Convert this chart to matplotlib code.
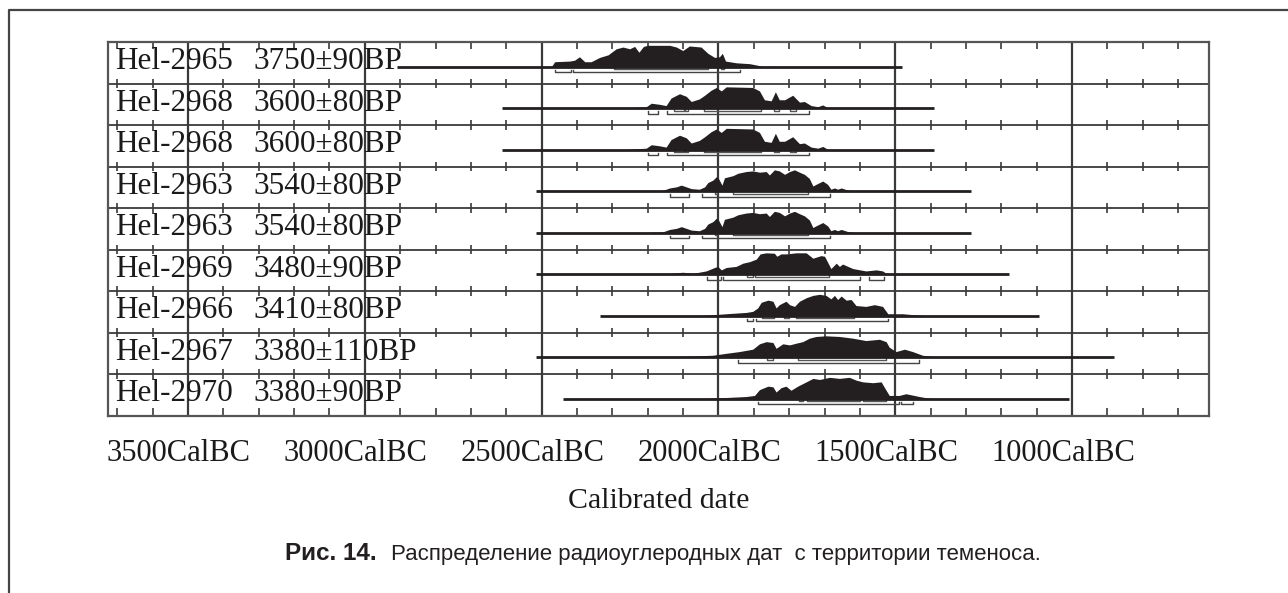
#!/usr/bin/env python3
"""Calibrated radiocarbon dates (OxCal-style multiplot), Fig. 14."""

import matplotlib
matplotlib.use("Agg")
import matplotlib.pyplot as plt
from matplotlib.lines import Line2D
from matplotlib.transforms import ScaledTranslation
import numpy as np

W, H = 1288, 593

# ---- data -------------------------------------------------------------
lab_ids = ["Hel-2965", "Hel-2968", "Hel-2968", "Hel-2963", "Hel-2963",
           "Hel-2969", "Hel-2966", "Hel-2967", "Hel-2970"]
bp_ages = ["3750±90BP", "3600±80BP", "3600±80BP", "3540±80BP", "3540±80BP",
           "3480±90BP", "3410±80BP", "3380±110BP", "3380±90BP"]

# extent of the horizontal line drawn for each date (years BC)
line_start = [2910, 2613, 2613, 2515, 2515, 2515, 2336, 2515, 2440]
line_end = [1480, 1390, 1390, 1285, 1285, 1178, 1093, 881, 1008]

# probability curves (years BC, relative height)
yr_2965 = [2473, 2463, 2421, 2407, 2393, 2378, 2360, 2336, 2312, 2289, 2270,
           2251, 2237, 2225, 2212, 2200, 2138, 2119, 2101, 2082, 2049, 2030,
           2011, 1997, 1989, 1980, 1950, 1912, 1884, 1875, 1846, 1828]
pr_2965 = [0, 0.24, 0.27, 0.31, 0.47, 0.24, 0.24, 0.44, 0.56, 0.84, 0.92,
           0.84, 0.95, 0.68, 0.95, 1.0, 1.0, 0.92, 0.76, 0.97, 0.92, 0.63,
           0.44, 0.47, 0.63, 0.27, 0.19, 0.15, 0.06, 0, 0.03, 0]

yr_2968 = [2279, 2204, 2190, 2167, 2148, 2134, 2110, 2091, 2077, 2054, 2039,
           2021, 2006, 1992, 1978, 1903, 1884, 1870, 1851, 1839, 1828, 1813,
           1790, 1771, 1757, 1738, 1719, 1705, 1691, 1682]
pr_2968 = [0, 0.08, 0.24, 0.19, 0.13, 0.48, 0.68, 0.56, 0.32, 0.44, 0.61,
           0.84, 0.97, 0.81, 1.0, 0.97, 0.81, 0.40, 0.35, 0.77, 0.40, 0.40,
           0.61, 0.29, 0.32, 0.13, 0.08, 0.16, 0.03, 0]

yr_2963 = [2250, 2204, 2157, 2138, 2119, 2105, 2091, 2077, 2054, 2039, 2030,
           2016, 2006, 2000, 1990, 1983, 1959, 1945, 1922, 1903, 1884, 1865,
           1856, 1842, 1828, 1813, 1799, 1785, 1771, 1757, 1743, 1733, 1719,
           1705, 1691, 1682, 1672, 1663, 1653, 1634, 1611, 1573]
pr_2963 = [0, 0.02, 0.05, 0.16, 0.21, 0.29, 0.21, 0.13, 0.10, 0.21, 0.41,
           0.52, 0.68, 0.60, 0.29, 0.63, 0.73, 0.84, 0.92, 0.95, 0.89, 0.92,
           0.76, 1.0, 0.95, 0.79, 0.92, 1.0, 0.89, 0.79, 0.60, 0.25, 0.37,
           0.48, 0.32, 0.10, 0.16, 0.10, 0.16, 0.06, 0.02, 0]

yr_2969 = [2200, 2148, 2101, 2072, 2035, 2011, 2002, 1992, 1978, 1950, 1931,
           1912, 1893, 1882, 1865, 1842, 1835, 1823, 1809, 1780, 1752, 1733,
           1710, 1700, 1682, 1667, 1658, 1649, 1634, 1620, 1583, 1554, 1536,
           1521]
pr_2969 = [0, 0.03, 0.10, 0.05, 0.16, 0.32, 0.37, 0.21, 0.32, 0.37, 0.52,
           0.59, 0.71, 0.95, 1.0, 0.98, 0.84, 0.95, 0.95, 1.0, 1.0, 0.75,
           0.87, 0.84, 0.27, 0.52, 0.37, 0.48, 0.37, 0.27, 0.16, 0.21, 0.16,
           0]

yr_2966 = [2100, 2035, 1978, 1922, 1903, 1889, 1879, 1860, 1846, 1837, 1828,
           1809, 1799, 1785, 1771, 1752, 1733, 1714, 1696, 1682, 1672, 1663,
           1653, 1639, 1625, 1611, 1583, 1559, 1536, 1521, 1479, 1432, 1385]
pr_2966 = [0, 0.03, 0.10, 0.16, 0.21, 0.37, 0.63, 0.73, 0.68, 0.37, 0.52,
           0.68, 0.52, 0.44, 0.68, 0.84, 0.95, 1.0, 0.95, 0.79, 0.95, 0.76,
           0.92, 0.73, 0.76, 0.48, 0.44, 0.52, 0.44, 0.10, 0.10, 0.03, 0]

yr_2967 = [2200, 2138, 2016, 1978, 1941, 1903, 1884, 1865, 1846, 1837, 1818,
           1799, 1780, 1762, 1743, 1724, 1696, 1658, 1620, 1583, 1545, 1526,
           1517, 1498, 1474, 1451, 1423, 1385, 1347]
pr_2967 = [0, 0.03, 0.10, 0.19, 0.27, 0.38, 0.63, 0.73, 0.69, 0.42, 0.63,
           0.58, 0.66, 0.73, 0.89, 0.97, 1.0, 0.97, 0.89, 0.78, 0.84, 0.73,
           0.47, 0.27, 0.38, 0.27, 0.10, 0.03, 0]

yr_2970 = [2080, 1997, 1922, 1898, 1884, 1860, 1846, 1837, 1823, 1809, 1795,
           1776, 1752, 1733, 1714, 1686, 1658, 1630, 1611, 1592, 1564, 1540,
           1526, 1517, 1489, 1470, 1432, 1404, 1376]
pr_2970 = [0, 0.05, 0.11, 0.16, 0.43, 0.59, 0.56, 0.32, 0.52, 0.59, 0.40,
           0.59, 0.79, 0.95, 0.90, 1.0, 0.95, 1.0, 0.87, 0.79, 0.75, 0.79,
           0.40, 0.16, 0.16, 0.24, 0.11, 0.03, 0]

# 68.2% and 95.4% calibrated ranges (years BC)
r68_2965 = [(2294, 2030), (1994, 1985)]
r95_2965 = [(2461, 2416), (2411, 1940)]
r68_2968 = [(2126, 2098), (2094, 2086), (2041, 1879), (1843, 1829), (1799, 1782)]
r95_2968 = [(2199, 2171), (2146, 1743)]
r68_2963 = [(2011, 2005), (1959, 1747)]
r95_2963 = [(2136, 2082), (2047, 1686)]
r68_2969 = [(1919, 1903), (1898, 1688)]
r95_2969 = [(2033, 1992), (1986, 1601), (1573, 1531)]
r68_2966 = [(1877, 1844), (1815, 1801), (1780, 1616)]
r95_2966 = [(1919, 1903), (1893, 1521)]
r68_2967 = [(1862, 1846), (1776, 1526)]
r95_2967 = [(1945, 1432)]
r68_2970 = [(1771, 1762), (1750, 1600), (1592, 1526)]
r95_2970 = [(1889, 1490), (1484, 1451)]

curve_years = [yr_2965, yr_2968, yr_2968, yr_2963, yr_2963, yr_2969, yr_2966, yr_2967, yr_2970]
curve_probs = [pr_2965, pr_2968, pr_2968, pr_2963, pr_2963, pr_2969, pr_2966, pr_2967, pr_2970]
ranges68 = [r68_2965, r68_2968, r68_2968, r68_2963, r68_2963, r68_2969, r68_2966, r68_2967, r68_2970]
ranges95 = [r95_2965, r95_2968, r95_2968, r95_2963, r95_2963, r95_2969, r95_2966, r95_2967, r95_2970]

major_years = [3500, 3000, 2500, 2000, 1500, 1000]
major_labels = ["3500CalBC", "3000CalBC", "2500CalBC", "2000CalBC", "1500CalBC", "1000CalBC"]
minor_years = [y for y in range(3700, 600, -100) if y not in major_years]

X_LEFT, X_RIGHT = 3726, 613

# ---- figure -------------------------------------------------------------
SERIF = ["Liberation Serif", "DejaVu Serif"]
GRID = "#3a3a3a"
INK = "#231f20"

fig = plt.figure(figsize=(W / 100, H / 100), dpi=100)
ax = fig.add_axes([108 / W, 1 - 415.5 / H, (1209 - 108) / W, (415.5 - 42) / H])
n = len(lab_ids)
ax.set_xlim(X_LEFT, X_RIGHT)
ax.set_ylim(n, 0)

for s in ax.spines.values():
    s.set_color("#555555")
    s.set_linewidth(1.6)

# grid: row separators, full-height major lines, minor ticks
ax.hlines(range(1, n), X_LEFT, X_RIGHT, color=GRID, lw=1.3, zorder=1)
ax.vlines(major_years, 0, n, color=GRID, lw=1.6, zorder=1)
for k in range(1, n):
    ax.vlines(minor_years, k - 0.11, k + 0.11, color=GRID, lw=1.2, zorder=1)
ax.vlines(minor_years, 0, 0.18, color=GRID, lw=1.2, zorder=1)
ax.vlines(minor_years, n - 0.18, n, color=GRID, lw=1.2, zorder=1)

for i in range(n):
    base = i + 0.6
    ax.plot([line_start[i], line_end[i]], [base, base], color=INK, lw=2.0,
            solid_capstyle="butt", zorder=3)
    yrs = np.array(curve_years[i], dtype=float)
    pr = np.array(curve_probs[i], dtype=float)
    ax.fill_between(yrs, base, base - 0.52 * pr, color=INK, lw=0, zorder=3)

    # 68.2% brackets just below the line, 95.4% a little lower
    for a, b in ranges68[i]:
        ax.plot([a, a, b, b], [base, base + 0.06, base + 0.06, base],
                color="#555555", lw=1.0, zorder=2)
    for a, b in ranges95[i]:
        ax.plot([a, a, b, b], [base + 0.07, base + 0.13, base + 0.13, base + 0.07],
                color="#444444", lw=1.0, zorder=2)

    ax.text(3706, i + 0.66, lab_ids[i], family=SERIF, fontsize=22.5,
            color="#1a1a1a", ha="left", va="baseline", zorder=4)
    ax.text(3314, i + 0.66, bp_ages[i], family=SERIF, fontsize=22.5,
            color="#1a1a1a", ha="left", va="baseline", zorder=4)

ax.set_yticks([])
ax.set_xticks(major_years)
ax.set_xticklabels(major_labels, family=SERIF, fontsize=22, color="#1a1a1a")
ax.tick_params(axis="x", length=0, pad=17)
shift = ScaledTranslation(-9 / 100, 0, fig.dpi_scale_trans)
for t in ax.get_xticklabels():
    t.set_transform(t.get_transform() + shift)
ax.set_xlabel("Calibrated date", family=SERIF, fontsize=21.5, color="#1a1a1a",
              labelpad=14)

# outer frame (top and left edges only)
fig.add_artist(Line2D([9 / W, 9 / W, 1], [0, 1 - 10 / H, 1 - 10 / H],
                      transform=fig.transFigure, color="#444444", lw=1.6))

# caption
CAP = ["Liberation Sans Narrow", "Liberation Sans", "DejaVu Sans"]
fig.text(285 / W, 1 - 560 / H, "Рис. 14.", family=CAP, fontsize=17.5,
         fontweight="bold", color="#231f20", ha="left", va="baseline")
fig.text(391 / W, 1 - 560 / H, "Распределение радиоуглеродных дат  с территории теменоса.",
         family=CAP, fontsize=16, color="#231f20", ha="left", va="baseline")

fig.savefig("out.png", dpi=100)
